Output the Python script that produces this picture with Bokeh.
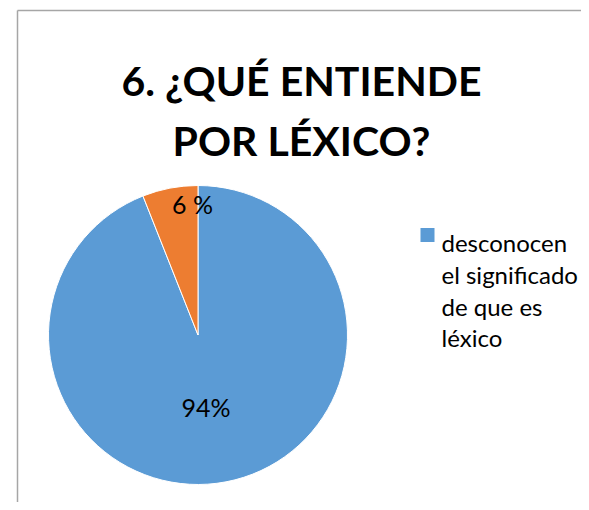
import math
from bokeh.plotting import figure
from bokeh.models import Range1d, ColumnDataSource
from bokeh.core.properties import value
from bokeh.embed import file_html
from bokeh.resources import INLINE

# ---- data ----
categories = ["desconocen el significado de que es léxico", "otros"]
legend_lines = ["desconocen", "el significado", "de que es", "léxico"]
percent = [94, 6]
slice_labels = ["94%", "6 %"]
colors = ["#5B9BD5", "#ED7D31"]
title_lines = ["6. ¿QUÉ ENTIENDE", "POR LÉXICO?"]

# ---- layout (screen-like data coordinates, y up) ----
W, H = 581, 502
H_WIN = 510
CX, CY, R = 197.5, H_WIN - 334.5, 149.5
FONT = "Lato"


def sy(y):
    return H_WIN - y


p = figure(width=W, height=H, output_backend="svg", toolbar_location=None,
           x_range=Range1d(0, W), y_range=Range1d(H_WIN - H, H_WIN),
           min_border=0)
p.axis.visible = False
p.grid.visible = False
p.outline_line_color = None
p.background_fill_color = "white"
p.border_fill_color = "white"

# chart area frame (cropped)
p.segment(x0=[17, 17], y0=[sy(10), sy(10)], x1=[W + 20, 17], y1=[sy(10), -20],
          line_color="#A6A6A6", line_width=1.5)

total = sum(percent)
starts, ends, cum = [], [], 0.0
for v in percent:
    a0 = math.pi / 2 - 2 * math.pi * cum / total
    cum += v
    a1 = math.pi / 2 - 2 * math.pi * cum / total
    starts.append(a0)
    ends.append(a1)

src = ColumnDataSource(dict(start=starts, end=ends, color=colors, cat=categories))
p.wedge(x=CX, y=CY, radius=R, start_angle="start", end_angle="end",
        direction="clock", fill_color="color", line_color="white", line_width=1,
        source=src)

# slice labels (positions follow Excel's placement)
label_pos = [(205.5, sy(406)), (192, sy(203.5))]
p.text(x=[q[0] for q in label_pos], y=[q[1] for q in label_pos], text=slice_labels,
       text_align="center", text_baseline="middle", text_font=value(FONT),
       text_font_size="25px", text_color="#000000")

# title
p.text(x=[301, 301], y=[sy(80), sy(140)], text=title_lines,
       text_align="center", text_baseline="alphabetic", text_font=value(FONT),
       text_font_style="bold", text_font_size="41px", text_color="#000000")

# legend (only the first entry is visible in the cropped chart)
p.scatter(x=[427], y=[sy(234.5)], marker="square", size=14,
          fill_color=colors[0], line_color=None)
p.text(x=[441] * len(legend_lines),
       y=[sy(241.7 + 31.9 * i) for i in range(len(legend_lines))],
       text=legend_lines, text_align="left", text_baseline="alphabetic",
       text_font=value(FONT), text_font_size="24px", text_color="#000000")

open("out.html", "w").write(file_html(p, INLINE))
